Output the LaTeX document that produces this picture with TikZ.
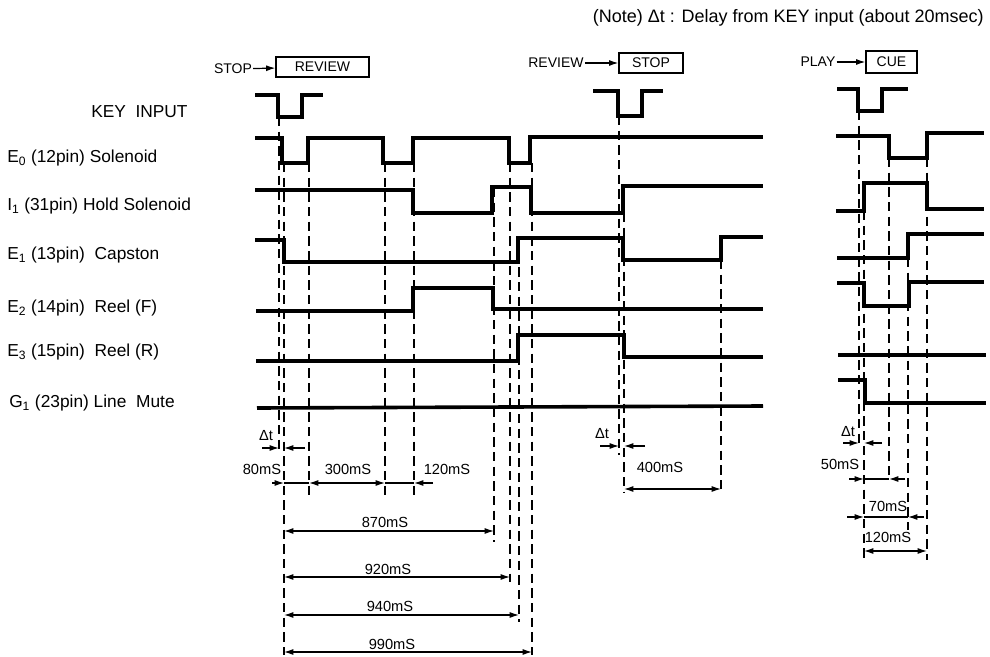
\documentclass[tikz,border=0pt]{standalone}
\usepackage{fontspec}
\setmainfont{Liberation Sans}
\usetikzlibrary{arrows.meta}

\begin{document}
\begin{tikzpicture}[x=0.75pt,y=0.75pt,yscale=-1,xscale=1,
	wave/.style={line width=2.7pt, line join=miter},
	guide/.style={line width=0.85pt, dash pattern={on 7pt off 4pt}},
	dimline/.style={line width=0.9pt},
	dimto/.style={dimline, -{Latex[length=7pt,width=4.5pt]}},
	dimboth/.style={dimline, {Latex[length=7pt,width=4.5pt]}-{Latex[length=7pt,width=4.5pt]}},
	keybox/.style={draw, line width=0.9pt, inner sep=0pt, font=\fontsize{10.5}{12}\selectfont},
	rowlabel/.style={anchor=west, inner sep=0.75pt, font=\fontsize{13}{15}\selectfont},
	msl/.style={inner sep=0.75pt, font=\fontsize{11}{13}\selectfont}]
	\useasboundingbox (0,0) rectangle (990,657);

	% Text Node
	\draw (985,18) node (note) [anchor=east][inner sep=0.75pt][font=\fontsize{13.5}{15}\selectfont] {(Note) Δt : Delay from KEY input (about 20msec)};

	%Shape: key boxes
	\draw (233,69) node (stopa) [inner sep=0.75pt][font=\fontsize{10.5}{12}\selectfont] {STOP};
	\draw (322.5,67) node (boxrev) [keybox, minimum width=69.75pt, minimum height=15pt] {REVIEW};
	\draw [dimto] (stopa) -- (boxrev);
	\draw (556,63) node (reva) [inner sep=0.75pt][font=\fontsize{10.5}{12}\selectfont] {REVIEW};
	\draw (651,63) node (boxstop) [keybox, minimum width=48pt, minimum height=15pt] {STOP};
	\draw [dimto] (reva) -- (boxstop);
	\draw (818,62) node (playa) [inner sep=0.75pt][font=\fontsize{10.5}{12}\selectfont] {PLAY};
	\draw (891.5,62) node (boxcue) [keybox, minimum width=38.25pt, minimum height=16.5pt] {CUE};
	\draw [dimto] (playa) -- (boxcue);

	% Text Node
	\draw (90,112) node (lkey) [rowlabel] {KEY \ INPUT};
	% Text Node
	\draw (6,158) node (leo) [rowlabel] {E\textsubscript{0} (12pin) Solenoid};
	% Text Node
	\draw (6,206) node (lio) [rowlabel] {I\textsubscript{1} (31pin) Hold Solenoid};
	% Text Node
	\draw (6,255) node (leone) [rowlabel] {E\textsubscript{1} (13pin) \ Capston};
	% Text Node
	\draw (6,308) node (letwo) [rowlabel] {E\textsubscript{2} (14pin) \ Reel (F)};
	% Text Node
	\draw (6,352) node (lethree) [rowlabel] {E\textsubscript{3} (15pin) \ Reel (R)};
	% Text Node
	\draw (8,403) node (lgone) [rowlabel] {G\textsubscript{1} (23pin) Line \ Mute};

	%Waveforms: STOP -> REVIEW -> STOP
	\draw [wave] (255,95) -- (278,95) -- (278,117) -- (302,117) -- (302,95) -- (323,95) ;
	\draw [wave] (593,91) -- (618,91) -- (618,116) -- (642,116) -- (642,91) -- (663,91) ;
	\draw [wave] (255,138) -- (282,138) -- (282,163) -- (308,163) -- (308,138) -- (383,138) -- (383,163) -- (413,163) -- (413,138) -- (509,138) -- (509,163) -- (530,163) -- (530,137) -- (763,137) ;
	\draw [wave] (255,190) -- (413,190) -- (413,213) -- (492,213) -- (492,187) -- (531,187) -- (531,213) -- (623,213) -- (623,186) -- (763,186) ;
	\draw [wave] (255,240) -- (284,240) -- (284,262) -- (518,262) -- (518,238) -- (623,238) -- (623,260) -- (721,260) -- (721,237) -- (763,237) ;
	\draw [wave] (256,311) -- (413,311) -- (413,288) -- (493,288) -- (493,309) -- (763,309) ;
	\draw [wave] (256,361) -- (518,361) -- (518,335) -- (624,335) -- (624,357) -- (763,357) ;
	\draw [wave] (257,408) -- (763,406) ;

	%Waveforms: PLAY -> CUE
	\draw [wave] (837,89) -- (858,89) -- (858,111) -- (882,111) -- (882,89) -- (908,89) ;
	\draw [wave] (836,136) -- (889,136) -- (889,158) -- (927,158) -- (927,133) -- (984,133) ;
	\draw [wave] (836,211) -- (864,211) -- (864,183) -- (927,183) -- (927,209) -- (984,209) ;
	\draw [wave] (837,258) -- (908,258) -- (908,234) -- (984,234) ;
	\draw [wave] (837,283) -- (864,283) -- (864,306) -- (909,306) -- (909,282) -- (984,282) ;
	\draw [wave] (838,355) -- (986,355) ;
	\draw [wave] (838,380) -- (865,380) -- (865,403) -- (986,403) ;

	%Straight Lines: dashed guides
	\draw [guide] (279,117) -- (279,452) ;
	\draw [guide] (284,163) -- (284,655) ;
	\draw [guide] (309,163) -- (309,497) ;
	\draw [guide] (385,163) -- (385,497) ;
	\draw [guide] (414,163) -- (414,497) ;
	\draw [guide] (494,188) -- (494,542) ;
	\draw [guide] (510,163) -- (510,582) ;
	\draw [guide] (519,238) -- (519,622) ;
	\draw [guide] (532,163) -- (532,655) ;
	\draw [guide] (619,116) -- (619,455) ;
	\draw [guide] (624,213) -- (624,492) ;
	\draw [guide] (721,260) -- (721,492) ;
	\draw [guide] (859,111) -- (859,448) ;
	\draw [guide] (864,211) -- (864,560) ;
	\draw [guide] (889,158) -- (889,480) ;
	\draw [guide] (908,258) -- (908,530) ;
	\draw [guide] (927,158) -- (927,560) ;

	%Straight Lines: dimensions, first group
	\draw (266,436) node (dta) [msl] {Δt};
	\draw [dimto] (262,448) -- (279,448) ;
	\draw [dimto] (305,448) -- (284,448) ;
	\draw (262,469) node (ms80) [msl] {80mS};
	\draw (348,469) node (ms300) [msl] {300mS};
	\draw (447,469) node (ms120a) [msl] {120mS};
	\draw [dimto] (272,483) -- (284,483) ;
	\draw [dimline] (284,483) -- (309,483) ;
	\draw [dimboth] (309,483) -- (385,483) ;
	\draw [dimline] (385,483) -- (414,483) ;
	\draw [dimto] (433,483) -- (414,483) ;
	\draw (385,522) node (ms870) [msl] {870mS};
	\draw [dimboth] (284,531) -- (494,531) ;
	\draw (388,569) node (ms920) [msl] {920mS};
	\draw [dimboth] (284,577) -- (510,577) ;
	\draw (390,606) node (ms940) [msl] {940mS};
	\draw [dimboth] (284,615) -- (519,615) ;
	\draw (392,644) node (ms990) [msl] {990mS};
	\draw [dimboth] (284,652) -- (532,652) ;

	%Straight Lines: dimensions, second group
	\draw (602,434) node (dtb) [msl] {Δt};
	\draw [dimto] (600,446) -- (619,446) ;
	\draw [dimto] (645,446) -- (624,446) ;
	\draw (660,467) node (ms400) [msl] {400mS};
	\draw [dimboth] (624,489) -- (721,489) ;

	%Straight Lines: dimensions, third group
	\draw (848,432) node (dtc) [msl] {Δt};
	\draw [dimto] (843,443) -- (859,443) ;
	\draw [dimto] (882,443) -- (864,443) ;
	\draw (840,464) node (ms50) [msl] {50mS};
	\draw [dimto] (849,479) -- (864,479) ;
	\draw [dimline] (864,479) -- (889,479) ;
	\draw [dimto] (905,479) -- (889,479) ;
	\draw (888,506) node (ms70) [msl] {70mS};
	\draw [dimto] (847,517) -- (864,517) ;
	\draw [dimline] (864,517) -- (908,517) ;
	\draw [dimto] (924,517) -- (908,517) ;
	\draw (888,537) node (ms120b) [msl] {120mS};
	\draw [dimboth] (864,551) -- (927,551) ;

\end{tikzpicture}
\end{document}
